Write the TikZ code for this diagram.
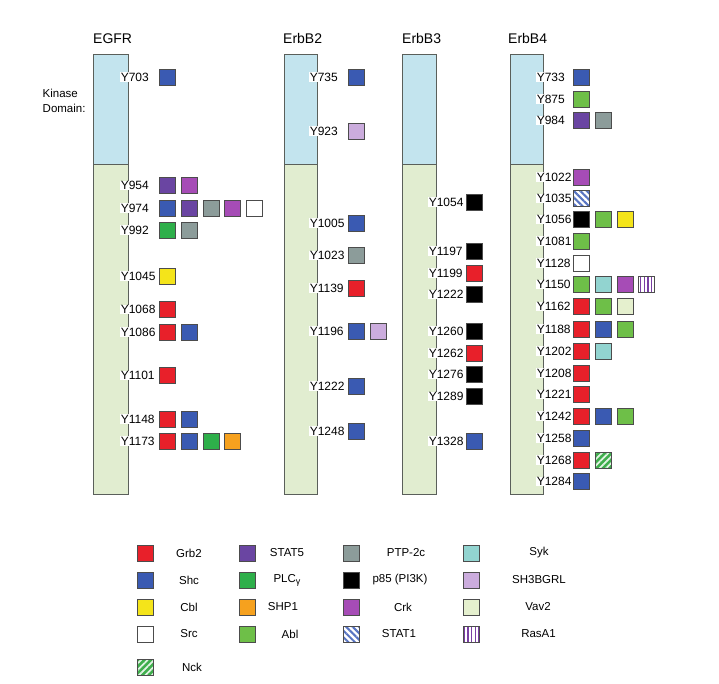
\documentclass[tikz,border=0pt]{standalone}
\usepackage{fontspec}
\setmainfont{Liberation Sans}
\usetikzlibrary{patterns.meta}
\definecolor{kinblue}{HTML}{C3E4EE}
\definecolor{tailgreen}{HTML}{E1EDD0}
\definecolor{barline}{HTML}{5A5F5A}
\definecolor{cgrb}{HTML}{E8202A}
\definecolor{cshc}{HTML}{3A5AB2}
\definecolor{ccbl}{HTML}{F4E41A}
\definecolor{cnck}{HTML}{3FAE4C}
\definecolor{cstatf}{HTML}{6A45A2}
\definecolor{cplc}{HTML}{2EAF4A}
\definecolor{cshp}{HTML}{F6A11E}
\definecolor{cabl}{HTML}{6EBF48}
\definecolor{cptp}{HTML}{8C9C9A}
\definecolor{ccrk}{HTML}{A64CB6}
\definecolor{cstato}{HTML}{5874C2}
\definecolor{csyk}{HTML}{92D4D0}
\definecolor{csh}{HTML}{CBACDD}
\definecolor{cvav}{HTML}{E5F0CE}
\definecolor{cras}{HTML}{7A3FA4}
\tikzset{
  sq/.style={draw=black!70, line width=0.8pt, minimum size=16pt, inner sep=0pt, outer sep=0pt},
  grb2/.style={fill=cgrb},
  shc/.style={fill=cshc},
  cbl/.style={fill=ccbl},
  src/.style={fill=white},
  nck/.style={preaction={fill=cnck}, pattern={Lines[angle=45,distance=4.6pt,line width=1.8pt]}, pattern color=white!85!cnck},
  stat5/.style={fill=cstatf},
  plcg/.style={fill=cplc},
  shp1/.style={fill=cshp},
  abl/.style={fill=cabl},
  ptp/.style={fill=cptp},
  pik/.style={fill=black},
  crk/.style={fill=ccrk},
  stat1/.style={preaction={fill=white}, pattern={Lines[angle=-45,distance=4.6pt,line width=2pt]}, pattern color=cstato},
  syk/.style={fill=csyk},
  sh3/.style={fill=csh},
  vav/.style={fill=cvav},
  rasa/.style={preaction={fill=white}, pattern={Lines[angle=90,distance=3.6pt,line width=1.3pt]}, pattern color=cras},
  lbl/.style={font=\fontsize{12}{14}\selectfont, anchor=west, fill=white, inner sep=0.6pt},
  ttl/.style={font=\fontsize{14}{16}\selectfont, anchor=west, inner sep=0pt},
  legtxt/.style={font=\fontsize{11.5}{14}\selectfont, inner sep=0pt},
  barbox/.style={draw=barline, line width=1pt}
}
\newcommand{\prow}[6]{%
  \node[lbl] (#1) at (#2,#4) {#5};
  \foreach \s [count=\i from 0] in {#6} {%
    \pgfmathsetmacro{\xx}{#3+21.7*\i}%
    \edef\tmp{\noexpand\node[sq,\s] (#1-\i) at (\xx,#4) {};}\tmp
  }%
}
\newcommand{\pbar}[3]{% name, left x, right x
  \fill[kinblue] (#2,55) rectangle (#3,165);
  \fill[tailgreen] (#2,165) rectangle (#3,494);
  \draw[barbox] (#2,55) rectangle (#3,494);
  \draw[barbox] (#2,165) -- (#3,165);
  \coordinate (#1) at (#2,55);
}
\newcommand{\pleg}[5]{% name, sq x, txt x, y, text/style
  \node[sq,#5] (#1) at (#2,#4) {};
  \node[legtxt] (#1-t) at (#3,#4) {#1};
}
\begin{document}
\begin{tikzpicture}[x=1pt,y=-1pt]
\useasboundingbox (0,0) rectangle (719,684);
% bars
\pbar{egfrbar}{93}{128}
\pbar{erbbtwobar}{284}{317}
\pbar{erbbthreebar}{402.5}{436}
\pbar{erbbfourbar}{510.5}{543}
% titles
\node[ttl] (tegfr) at (93,38.5) {EGFR};
\node[ttl] (terbbtwo) at (283,38.5) {ErbB2};
\node[ttl] (terbbthree) at (402,38.5) {ErbB3};
\node[ttl] (terbbfour) at (508,38.5) {ErbB4};
\node[font=\fontsize{11.5}{15}\selectfont, align=left, anchor=north west, inner sep=0pt] (kin) at (42.5,89) {Kinase\\Domain:};
% EGFR
\prow{e1}{120}{167.5}{77}{Y703}{shc}
\prow{e2}{120}{167.5}{185.5}{Y954}{stat5,crk}
\prow{e3}{120}{167.5}{208}{Y974}{shc,stat5,ptp,crk,src}
\prow{e4}{120}{167.5}{230}{Y992}{plcg,ptp}
\prow{e5}{120}{167.5}{276}{Y1045}{cbl}
\prow{e6}{120}{167.5}{309.5}{Y1068}{grb2}
\prow{e7}{120}{167.5}{332}{Y1086}{grb2,shc}
\prow{e8}{120}{167.5}{375.5}{Y1101}{grb2}
\prow{e9}{120}{167.5}{419}{Y1148}{grb2,shc}
\prow{e10}{120}{167.5}{441}{Y1173}{grb2,shc,plcg,shp1}
% ErbB2
\prow{b1}{309}{356.5}{77}{Y735}{shc}
\prow{b2}{309}{356.5}{131}{Y923}{sh3}
\prow{b3}{309}{356.5}{223}{Y1005}{shc}
\prow{b4}{309}{356.5}{255.5}{Y1023}{ptp}
\prow{b5}{309}{356.5}{288}{Y1139}{grb2}
\prow{b6}{309}{356.5}{331}{Y1196}{shc,sh3}
\prow{b7}{309}{356.5}{386}{Y1222}{shc}
\prow{b8}{309}{356.5}{431}{Y1248}{shc}
% ErbB3
\prow{c1}{428}{474}{202}{Y1054}{pik}
\prow{c2}{428}{474}{251}{Y1197}{pik}
\prow{c3}{428}{474}{273}{Y1199}{grb2}
\prow{c4}{428}{474}{294.5}{Y1222}{pik}
\prow{c5}{428}{474}{331}{Y1260}{pik}
\prow{c6}{428}{474}{353}{Y1262}{grb2}
\prow{c7}{428}{474}{374.5}{Y1276}{pik}
\prow{c8}{428}{474}{396.5}{Y1289}{pik}
\prow{c9}{428}{474}{441}{Y1328}{shc}
% ErbB4
\prow{d1}{536}{581.5}{77}{Y733}{shc}
\prow{d2}{536}{581.5}{99}{Y875}{abl}
\prow{d3}{536}{581.5}{120.5}{Y984}{stat5,ptp}
\prow{d4}{536}{581.5}{177}{Y1022}{crk}
\prow{d5}{536}{581.5}{198.5}{Y1035}{stat1}
\prow{d6}{536}{581.5}{219.5}{Y1056}{pik,abl,cbl}
\prow{d7}{536}{581.5}{241}{Y1081}{abl}
\prow{d8}{536}{581.5}{263}{Y1128}{src}
\prow{d9}{536}{581.5}{284.5}{Y1150}{abl,syk,crk,rasa}
\prow{d10}{536}{581.5}{306.5}{Y1162}{grb2,abl,vav}
\prow{d11}{536}{581.5}{329}{Y1188}{grb2,shc,abl}
\prow{d12}{536}{581.5}{351}{Y1202}{grb2,syk}
\prow{d13}{536}{581.5}{373}{Y1208}{grb2}
\prow{d14}{536}{581.5}{394.5}{Y1221}{grb2}
\prow{d15}{536}{581.5}{416}{Y1242}{grb2,shc,abl}
\prow{d16}{536}{581.5}{438}{Y1258}{shc}
\prow{d17}{536}{581.5}{460}{Y1268}{grb2,nck}
\prow{d18}{536}{581.5}{481.5}{Y1284}{shc}
% legend
\node[sq,grb2] (lg1) at (145,553) {}; \node[legtxt] (lg1t) at (189,553) {Grb2};
\node[sq,shc] (lg2) at (145,580) {}; \node[legtxt] (lg2t) at (189,580) {Shc};
\node[sq,cbl] (lg3) at (145,607) {}; \node[legtxt] (lg3t) at (189,607) {Cbl};
\node[sq,src] (lg4) at (145,634) {}; \node[legtxt] (lg4t) at (189,634) {Src};
\node[sq,nck] (lg5) at (145,667) {}; \node[legtxt] (lg5t) at (192,667) {Nck};
\node[sq,stat5] (lg6) at (247,553) {}; \node[legtxt] (lg6t) at (287,553) {STAT5};
\node[sq,plcg] (lg7) at (247,580) {}; \node[legtxt] (lg7t) at (287,580) {PLC{\fontsize{9}{9}\selectfont\raisebox{-2pt}{γ}}};
\node[sq,shp1] (lg8) at (247,607) {}; \node[legtxt] (lg8t) at (283,607) {SHP1};
\node[sq,abl] (lg9) at (247,634) {}; \node[legtxt] (lg9t) at (290,634) {Abl};
\node[sq,ptp] (lg10) at (351.5,553) {}; \node[legtxt] (lg10t) at (406,553) {PTP-2c};
\node[sq,pik] (lg11) at (351.5,580) {}; \node[legtxt] (lg11t) at (400,580) {p85 (PI3K)};
\node[sq,crk] (lg12) at (351.5,607) {}; \node[legtxt] (lg12t) at (403,607) {Crk};
\node[sq,stat1] (lg13) at (351.5,634) {}; \node[legtxt] (lg13t) at (399,634) {STAT1};
\node[sq,syk] (lg14) at (471.5,553) {}; \node[legtxt] (lg14t) at (539,553) {Syk};
\node[sq,sh3] (lg15) at (471.5,580) {}; \node[legtxt] (lg15t) at (539,580) {SH3BGRL};
\node[sq,vav] (lg16) at (471.5,607) {}; \node[legtxt] (lg16t) at (538,607) {Vav2};
\node[sq,rasa] (lg17) at (471.5,634) {}; \node[legtxt] (lg17t) at (538.5,634) {RasA1};
\end{tikzpicture}
\end{document}
